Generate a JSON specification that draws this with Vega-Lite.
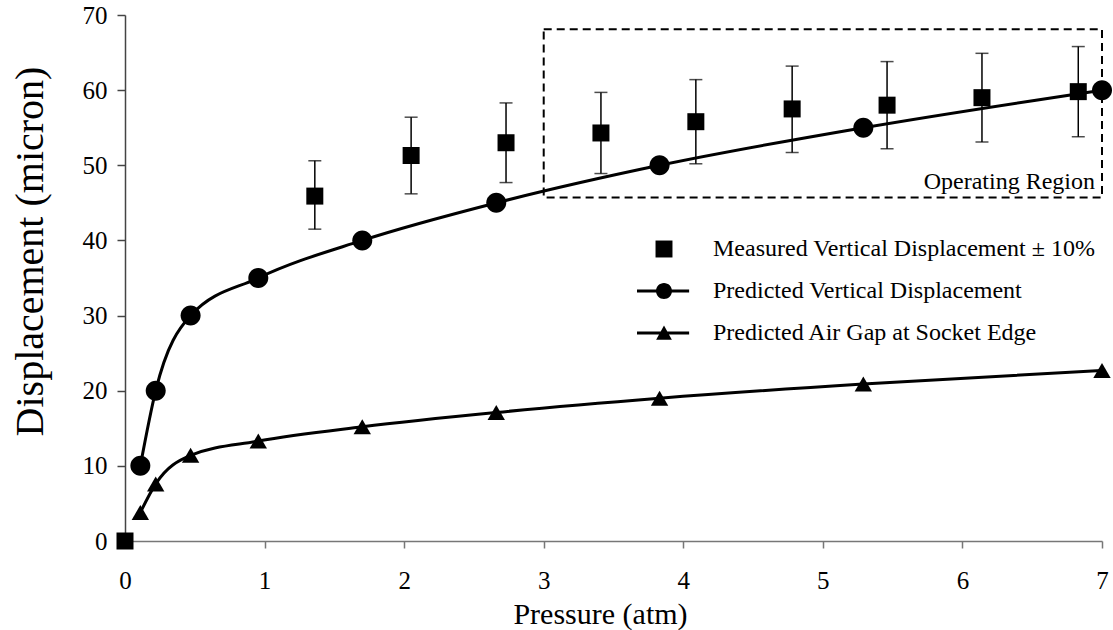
{
  "$schema": "https://vega.github.io/schema/vega-lite/v6.json",
  "width": 977,
  "height": 526,
  "autosize": {"type": "none"},
  "padding": {"left": 125, "top": 15, "right": 11, "bottom": 89},
  "background": "white",
  "config": {
    "font": "Liberation Serif",
    "view": {"stroke": null},
    "axis": {"grid": false, "labelFont": "Liberation Serif", "titleFont": "Liberation Serif", "labelColor": "black", "titleColor": "black", "titleFontWeight": "normal"},
    "legend": {"labelFont": "Liberation Serif"}
  },
  "datasets": {
    "pts": [
      {"series": "Measured Vertical Displacement ± 10%", "p": 0, "d": 0},
      {"series": "Measured Vertical Displacement ± 10%", "p": 1.36, "d": 45.9, "lo": 41.5, "hi": 50.6},
      {"series": "Measured Vertical Displacement ± 10%", "p": 2.05, "d": 51.3, "lo": 46.2, "hi": 56.4},
      {"series": "Measured Vertical Displacement ± 10%", "p": 2.73, "d": 53.0, "lo": 47.7, "hi": 58.3},
      {"series": "Measured Vertical Displacement ± 10%", "p": 3.41, "d": 54.3, "lo": 48.9, "hi": 59.7},
      {"series": "Measured Vertical Displacement ± 10%", "p": 4.09, "d": 55.8, "lo": 50.2, "hi": 61.4},
      {"series": "Measured Vertical Displacement ± 10%", "p": 4.78, "d": 57.5, "lo": 51.7, "hi": 63.2},
      {"series": "Measured Vertical Displacement ± 10%", "p": 5.46, "d": 58.0, "lo": 52.2, "hi": 63.8},
      {"series": "Measured Vertical Displacement ± 10%", "p": 6.14, "d": 59.0, "lo": 53.1, "hi": 64.9},
      {"series": "Measured Vertical Displacement ± 10%", "p": 6.83, "d": 59.8, "lo": 53.8, "hi": 65.8},
      {"series": "Predicted Vertical Displacement", "p": 0.11, "d": 10},
      {"series": "Predicted Vertical Displacement", "p": 0.22, "d": 20},
      {"series": "Predicted Vertical Displacement", "p": 0.47, "d": 30},
      {"series": "Predicted Vertical Displacement", "p": 0.955, "d": 35},
      {"series": "Predicted Vertical Displacement", "p": 1.7, "d": 40},
      {"series": "Predicted Vertical Displacement", "p": 2.66, "d": 45},
      {"series": "Predicted Vertical Displacement", "p": 3.83, "d": 50},
      {"series": "Predicted Vertical Displacement", "p": 5.29, "d": 55},
      {"series": "Predicted Vertical Displacement", "p": 7.0, "d": 60},
      {"series": "Predicted Air Gap at Socket Edge", "p": 0.11, "d": 3.8},
      {"series": "Predicted Air Gap at Socket Edge", "p": 0.22, "d": 7.6},
      {"series": "Predicted Air Gap at Socket Edge", "p": 0.47, "d": 11.4},
      {"series": "Predicted Air Gap at Socket Edge", "p": 0.955, "d": 13.3},
      {"series": "Predicted Air Gap at Socket Edge", "p": 1.7, "d": 15.2},
      {"series": "Predicted Air Gap at Socket Edge", "p": 2.66, "d": 17.1},
      {"series": "Predicted Air Gap at Socket Edge", "p": 3.83, "d": 19.0},
      {"series": "Predicted Air Gap at Socket Edge", "p": 5.29, "d": 20.9},
      {"series": "Predicted Air Gap at Socket Edge", "p": 7.0, "d": 22.7}
    ]
  },
  "data": {"name": "pts"},
  "resolve": {"scale": {"shape": "independent"}, "legend": {"shape": "independent"}},
  "layer": [
    {
      "transform": [{"filter": {"field": "series", "oneOf": ["Predicted Vertical Displacement", "Predicted Air Gap at Socket Edge"]}}],
      "mark": {"type": "line", "interpolate": "monotone", "strokeWidth": 3, "color": "black"},
      "encoding": {
        "x": {"field": "p", "type": "quantitative", "scale": {"domain": [0, 7], "nice": false, "zero": false},
          "axis": {"title": "Pressure (atm)", "values": [0, 1, 2, 3, 4, 5, 6, 7], "format": "d", "tickSize": 7, "tickColor": "#777", "tickWidth": 1.5, "domainColor": "#777", "domainWidth": 1.5, "labelFontSize": 25, "labelPadding": 20, "labelFlush": false, "titleFontSize": 30, "titleX": 475, "titleY": 82, "titleBaseline": "alphabetic", "titleAlign": "center", "titleAnchor": null}},
        "y": {"field": "d", "type": "quantitative", "scale": {"domain": [0, 70], "nice": false},
          "axis": {"title": "Displacement (micron)", "values": [0, 10, 20, 30, 40, 50, 60, 70], "tickSize": 8, "tickColor": "#444", "tickWidth": 1.5, "domainColor": "#444", "domainWidth": 1.5, "labelFontSize": 25, "labelPadding": 10, "labelFlush": false, "titleFontSize": 40, "titleAngle": -90, "titleX": -83, "titleY": 236, "titleBaseline": "alphabetic", "titleAlign": "center", "titleAnchor": null}},
        "detail": {"field": "series"}
      }
    },
    {
      "data": {"values": [{}]},
      "mark": {"type": "rect", "fill": null, "filled": false, "stroke": "black", "strokeWidth": 2, "strokeDash": [8, 5]},
      "encoding": {
        "x": {"datum": 3, "type": "quantitative"},
        "x2": {"datum": 7},
        "y": {"datum": 45.7, "type": "quantitative"},
        "y2": {"datum": 68.1}
      }
    },
    {
      "data": {"values": [{"label": "Operating Region"}]},
      "mark": {"type": "text", "align": "right", "baseline": "alphabetic", "dx": -7, "fontSize": 24, "font": "Liberation Serif", "color": "black"},
      "encoding": {
        "x": {"datum": 7, "type": "quantitative"},
        "y": {"datum": 46.8, "type": "quantitative"},
        "text": {"field": "label"}
      }
    },
    {
      "transform": [{"filter": "isValid(datum.lo)"}],
      "mark": {"type": "rule", "strokeWidth": 1.5, "color": "black"},
      "encoding": {
        "x": {"field": "p", "type": "quantitative"},
        "y": {"field": "lo", "type": "quantitative"},
        "y2": {"field": "hi"}
      }
    },
    {
      "transform": [{"filter": "isValid(datum.lo)"}],
      "mark": {"type": "tick", "orient": "horizontal", "size": 13, "thickness": 1.5, "color": "black"},
      "encoding": {
        "x": {"field": "p", "type": "quantitative"},
        "y": {"field": "lo", "type": "quantitative"}
      }
    },
    {
      "transform": [{"filter": "isValid(datum.lo)"}],
      "mark": {"type": "tick", "orient": "horizontal", "size": 13, "thickness": 1.5, "color": "black"},
      "encoding": {
        "x": {"field": "p", "type": "quantitative"},
        "y": {"field": "hi", "type": "quantitative"}
      }
    },
    {
      "mark": {"type": "point", "filled": true, "opacity": 1, "color": "black", "size": 400},
      "encoding": {
        "x": {"field": "p", "type": "quantitative"},
        "y": {"field": "d", "type": "quantitative"},
        "shape": {"field": "series", "type": "nominal",
          "scale": {"domain": ["Measured Vertical Displacement ± 10%", "Predicted Vertical Displacement", "Predicted Air Gap at Socket Edge"],
            "range": ["M-0.85,-0.85H0.85V0.85H-0.85Z", "M1,0A1,1 0 1,1 -1,0A1,1 0 1,1 1,0Z", "M0,-0.75L0.87,0.75L-0.87,0.75Z"]},
          "legend": null}
      }
    },
    {
      "transform": [{"filter": "datum.p > 100"}],
      "mark": {"type": "point", "filled": true, "color": "black", "opacity": 1, "size": 225},
      "encoding": {
        "x": {"field": "p", "type": "quantitative"},
        "y": {"field": "d", "type": "quantitative"},
        "shape": {"field": "series", "type": "nominal",
          "scale": {"domain": ["Measured Vertical Displacement ± 10%", "Predicted Vertical Displacement", "Predicted Air Gap at Socket Edge"],
            "range": ["M-1.13,-1.13H1.13V1.13H-1.13Z", "M-3.6,-0.2H3.35V0.2H-3.6Z M1.07,0A1.07,1.07 0 1,1 -1.07,0A1.07,1.07 0 1,1 1.07,0Z", "M-3.6,-0.2H3.35V0.2H-3.6Z M0,-1L1.05,0.9L-1.05,0.9Z"]},
          "legend": {
            "orient": "none", "legendX": 527, "legendY": 222, "title": null, "padding": 0,
            "labelFontSize": 24, "labelFont": "Liberation Serif", "labelColor": "black", "labelOffset": 37, "labelLimit": 700,
            "rowPadding": 18, "symbolSize": 225, "symbolOpacity": 1, "symbolFillColor": "black"
          }}
      }
    }
  ]
}
